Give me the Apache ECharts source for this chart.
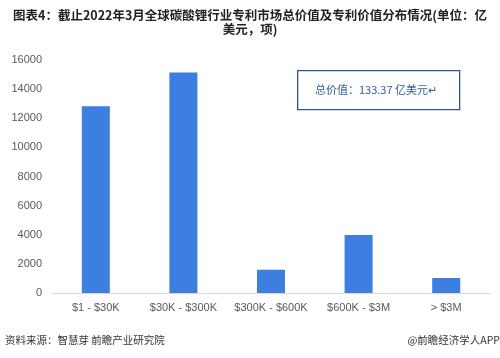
<!DOCTYPE html>
<html>
<head>
<meta charset="utf-8">
<script src="https://cdn.jsdelivr.net/npm/echarts@6/dist/echarts.min.js"></script>
<style>
html,body{margin:0;padding:0;background:#fff;}
#chart{width:500px;height:358px;}
</style>
</head>
<body>
<div id="chart"></div>
<script>
const categories = ['$1 - $30K', '$30K - $300K', '$300K - $600K', '$600K - $3M', '> $3M'];
const patentCounts = [12820, 15150, 1600, 3990, 1030];
const yTicks = { min: 0, max: 16000, interval: 2000 };
const titleText = '图表4：截止2022年3月全球碳酸锂行业专利市场总价值及专利价值分布情况(单位：亿\n美元，项)';
const noteText = '总价值：133.37 亿美元↵';
const sourceText = '资料来源：智慧芽 前瞻产业研究院';
const brandText = '@前瞻经济学人APP';

const font = '"Noto Sans CJK SC", "Microsoft YaHei", sans-serif';
const latin = '"Liberation Sans", Arial, sans-serif';
const chart = echarts.init(document.getElementById('chart'));
chart.setOption({
  backgroundColor: '#ffffff',
  animation: false,
  title: {
    text: titleText,
    left: 'center',
    top: 3,
    textStyle: { fontFamily: font, fontSize: 12.5, fontWeight: 'bold', color: '#222', lineHeight: 14 }
  },
  grid: { left: 52, right: 10, top: 60, bottom: 65 },
  xAxis: {
    type: 'category',
    data: categories,
    axisLine: { lineStyle: { color: '#D9D9D9' } },
    axisTick: { show: false },
    axisLabel: { color: '#595959', fontSize: 11, fontFamily: latin, margin: 9, interval: 0 }
  },
  yAxis: {
    type: 'value',
    min: yTicks.min, max: yTicks.max, interval: yTicks.interval,
    axisLine: { show: false },
    axisTick: { show: false },
    splitLine: { show: false },
    axisLabel: { color: '#595959', fontSize: 11, fontFamily: latin, margin: 10, formatter: v => String(v) }
  },
  series: [{
    type: 'bar',
    data: patentCounts,
    barWidth: '32%',
    itemStyle: { color: '#3D7FE0' }
  }],
  graphic: [
    {
      type: 'rect',
      left: 297, top: 70,
      shape: { width: 162, height: 39 },
      style: { fill: '#fff', stroke: '#2F5597', lineWidth: 1.3 }
    },
    {
      type: 'text',
      left: 315, top: 84,
      style: { text: noteText, fill: '#2E5C9E', font: '11px ' + font }
    },
    {
      type: 'text',
      left: 5, top: 335,
      style: { text: sourceText, fill: '#333', font: '10.5px ' + font }
    },
    {
      type: 'text',
      right: 0, top: 335,
      style: { text: brandText, fill: '#333', font: '10.5px ' + font }
    }
  ]
});
</script>
</body>
</html>
